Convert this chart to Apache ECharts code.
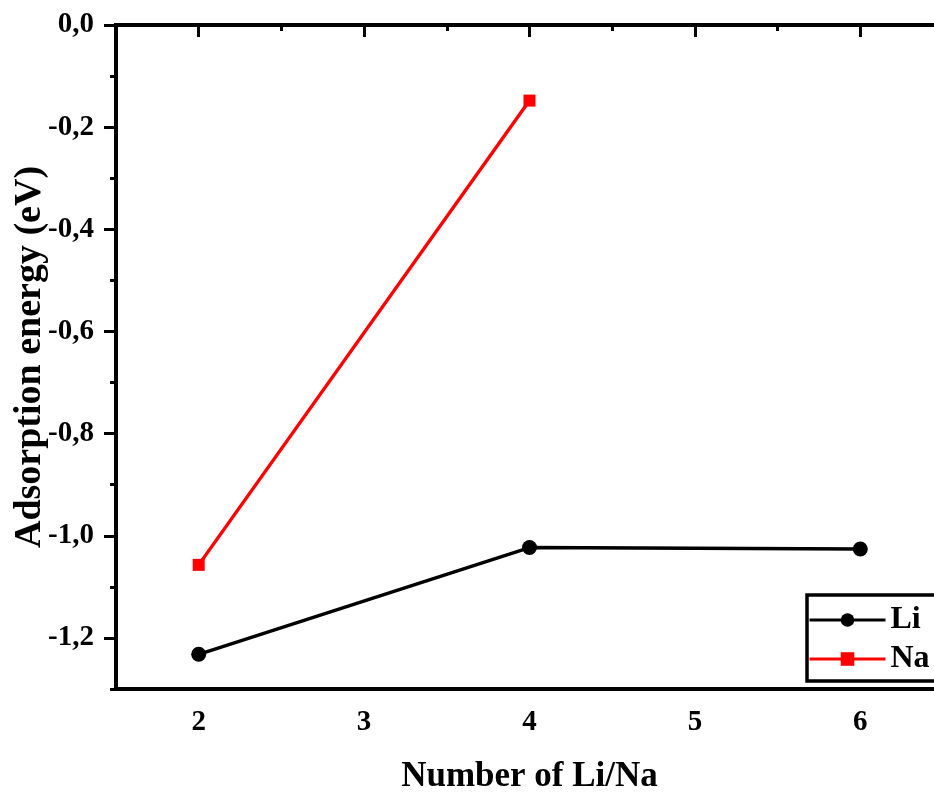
<!DOCTYPE html>
<html>
<head>
<meta charset="utf-8">
<script src="https://cdn.jsdelivr.net/npm/echarts@6/dist/echarts.min.js"></script>
<style>
  html, body { margin: 0; padding: 0; background: #fff; }
  #chart { width: 934px; height: 794px; }
</style>
</head>
<body>
<div id="chart"></div>
<script>
// Adsorption energy versus number of adsorbed Li / Na atoms
const counts = [2, 4, 6];
const liEnergy = [-1.232, -1.023, -1.026];
const naEnergy = [-1.057, -0.148, null];
const yMajorTicks = [0, -0.2, -0.4, -0.6, -0.8, -1.0, -1.2];
const xMajorTicks = [2, 3, 4, 5, 6];

const FONT = '"Liberation Serif", "Times New Roman", serif';
const comma = v => v.toFixed(1).replace('.', ',');

const chart = echarts.init(document.getElementById('chart'), null, { renderer: 'canvas' });

// plot frame runs a little past the right edge of the canvas
const gridRect = { left: 116, top: 25, width: 827, height: 664 };

const axisLineStyle = { show: true, lineStyle: { color: '#000', width: 4 } };

chart.setOption({
  backgroundColor: '#fff',
  animation: false,
  grid: Object.assign({
    show: true, borderColor: '#000', borderWidth: 4, backgroundColor: 'transparent',
    containLabel: false, outerBoundsMode: 'none'
  }, gridRect),
  legend: {
    left: 807, top: 595,
    orient: 'vertical',
    padding: [9, 8, 6, 1],
    itemGap: 7,
    itemWidth: 76,
    itemHeight: 17,
    borderColor: '#000',
    borderWidth: 3.5,
    backgroundColor: '#fff',
    lineStyle: { width: 3 },
    textStyle: { fontFamily: FONT, fontWeight: 'bold', fontSize: 32, color: '#000' },
    data: ['Li', 'Na']
  },
  xAxis: [
    {
      type: 'value', min: 1.5, max: 6.5, interval: 0.5,
      position: 'bottom',
      name: 'Number of Li/Na', nameLocation: 'middle', nameGap: 70, nameMoveOverlap: false,
      nameTextStyle: { fontFamily: FONT, fontWeight: 'bold', fontSize: 35, color: '#000' },
      axisLine: axisLineStyle,
      axisTick: { show: true, inside: false, length: 12, lineStyle: { color: '#000', width: 3 }, customValues: xMajorTicks },
      axisLabel: { show: true, margin: 19, customValues: xMajorTicks, formatter: v => String(v),
        fontFamily: FONT, fontWeight: 'bold', fontSize: 29, color: '#000' },
      splitLine: { show: false }
    },
    {
      // half-step ticks
      type: 'value', min: 1.5, max: 6.5, interval: 0.5,
      position: 'bottom', gridIndex: 0,
      axisLine: { show: false },
      axisTick: { show: true, inside: false, length: 6, lineStyle: { color: '#000', width: 3 } },
      axisLabel: { show: false },
      splitLine: { show: false }
    }
  ],
  yAxis: [
    {
      type: 'value', min: -1.3, max: 0,
      position: 'left',
      name: 'Adsorption energy (eV)', nameLocation: 'middle', nameGap: 67, nameRotate: 90,
      nameMoveOverlap: false,
      nameTextStyle: { fontFamily: FONT, fontWeight: 'bold', fontSize: 38, color: '#000' },
      axisLine: axisLineStyle,
      axisTick: { show: true, inside: false, length: 12, lineStyle: { color: '#000', width: 3 }, customValues: yMajorTicks },
      axisLabel: { show: true, margin: 22, customValues: yMajorTicks, formatter: v => comma(v),
        fontFamily: FONT, fontWeight: 'bold', fontSize: 29, color: '#000' },
      splitLine: { show: false }
    },
    {
      // 0.1 step ticks
      type: 'value', min: -1.3, max: 0, interval: 0.1,
      position: 'left', offset: 0,
      axisLine: { show: false },
      axisTick: { show: true, inside: false, length: 6, lineStyle: { color: '#000', width: 3 } },
      axisLabel: { show: false },
      splitLine: { show: false }
    }
  ],
  series: [
    {
      name: 'Li', type: 'line',
      xAxisIndex: 0, yAxisIndex: 0,
      data: counts.map((c, i) => [c, liEnergy[i]]),
      symbol: 'circle', symbolSize: 15,
      lineStyle: { color: '#000', width: 3.4 },
      itemStyle: { color: '#000' },
      z: 3
    },
    {
      name: 'Na', type: 'line',
      xAxisIndex: 0, yAxisIndex: 0,
      data: counts.map((c, i) => [c, naEnergy[i]]).filter(d => d[1] !== null),
      symbol: 'rect', symbolSize: 12,
      lineStyle: { color: '#ff0000', width: 3.4 },
      itemStyle: { color: '#ff0000' },
      z: 3
    }
  ]
});
</script>
</body>
</html>
